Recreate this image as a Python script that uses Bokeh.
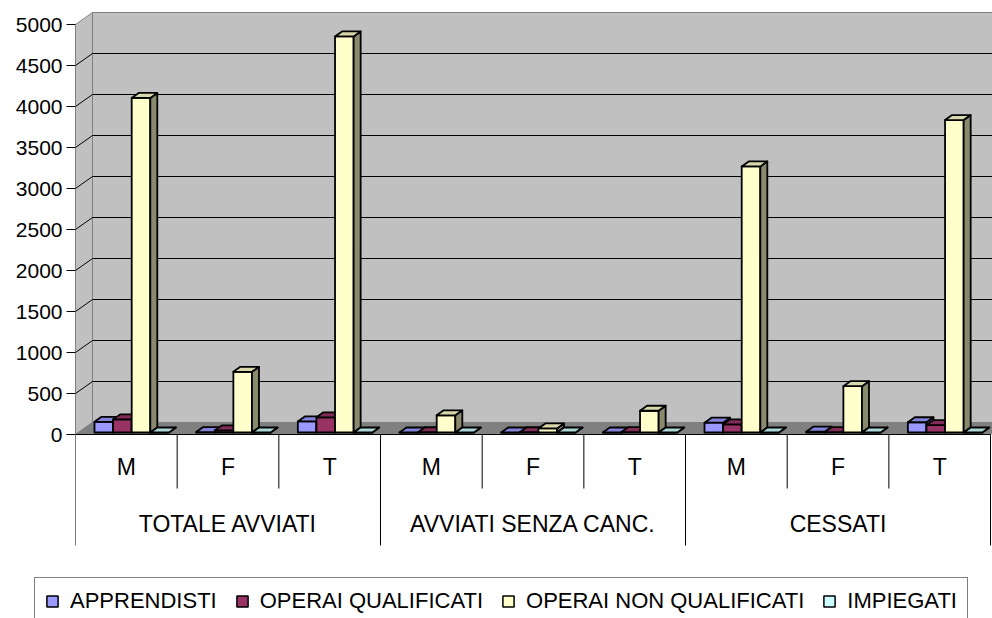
from bokeh.plotting import figure
from bokeh.layouts import column
from bokeh.models import (LinearAxis, FixedTicker, Range1d, Legend, LegendItem,
                          ColumnDataSource)
from bokeh.embed import file_html
from bokeh.resources import INLINE
from bokeh.core.properties import value

# ---------------- data ----------------
groups = ["TOTALE AVVIATI", "AVVIATI SENZA CANC.", "CESSATI"]
subcats = ["M", "F", "T"]
series_names = ["APPRENDISTI", "OPERAI QUALIFICATI", "OPERAI NON QUALIFICATI", "IMPIEGATI"]
apprendisti = [130, 5, 135, 0, 0, 0, 120, 10, 125]
operai_qualificati = [160, 25, 185, 3, 3, 5, 100, 5, 90]
operai_non_qualificati = [4080, 740, 4830, 210, 50, 265, 3245, 565, 3810]
impiegati = [0, 0, 0, 0, 0, 0, 0, 0, 0]
y_ticks = [0, 500, 1000, 1500, 2000, 2500, 3000, 3500, 4000, 4500, 5000]

series_values = [apprendisti, operai_qualificati, operai_non_qualificati, impiegati]
front_colors = ["#9999FF", "#993366", "#FFFFCC", "#CCFFFF"]

# ---------------- styling / geometry (pixels -> data units) ----------------
PX_X = 101.67          # pixels per category
PX_Y = 0.082           # pixels per unit value
FONT = "Liberation Sans"
W = 992
H1 = 570               # chart part height
H2 = 48                # legend strip height
LEFT = 75              # frame left edge (px)
BASE = 434             # baseline (px from top)

def sx(px):
    return px / PX_X

def sy(px):
    return px / PX_Y

YMAX = y_ticks[-1]
NCAT = len(groups) * len(subcats)
WALL_DX, WALL_DY = sx(17), sy(12)
BAR_DX, BAR_DY = sx(7), sy(5)
BAR_W = sx(18.6)
BAR_OFF = sx(19)
BAR_BASE = sy(2)

def shade(hexcol, f):
    h = hexcol.lstrip("#")
    r, g, b = (int(h[i:i + 2], 16) for i in (0, 2, 4))
    return "#%02x%02x%02x" % (int(r * f), int(g * f), int(b * f))

p = figure(width=W, height=H1, output_backend="svg", toolbar_location=None,
           x_range=Range1d(0, sx(W - LEFT)), y_range=Range1d(-sy(H1 - BASE), sy(BASE)),
           x_axis_location=None, y_axis_location=None,
           min_border_left=LEFT, min_border_right=0, min_border_top=0, min_border_bottom=0)
p.outline_line_color = None
p.background_fill_color = "white"
p.border_fill_color = "white"
p.xgrid.visible = False
p.ygrid.visible = False

# walls and floor
p.patch([0, WALL_DX, WALL_DX, 0], [0, WALL_DY, YMAX + WALL_DY, YMAX],
        fill_color="#C0C0C0", line_color="#808080", line_width=1)
xend = sx(W - LEFT) + 0.5
p.patch([WALL_DX, xend, xend, WALL_DX], [WALL_DY, WALL_DY, YMAX + WALL_DY, YMAX + WALL_DY],
        fill_color="#C0C0C0", line_color="#808080", line_width=1)
p.patch([0, NCAT, NCAT + WALL_DX, WALL_DX], [0, 0, WALL_DY, WALL_DY],
        fill_color="#808080", line_color="#808080", line_width=1)

# gridlines
gx0, gy0, gx1, gy1 = [], [], [], []
for v in y_ticks[1:-1]:
    gx0 += [WALL_DX, 0]
    gy0 += [v + WALL_DY, v]
    gx1 += [xend, WALL_DX]
    gy1 += [v + WALL_DY, v + WALL_DY]
p.segment(gx0, gy0, gx1, gy1, line_color="#000000", line_width=1)

# bars
xs, ys, fills = [], [], []
for c in range(NCAT):
    for s, vals in enumerate(series_values):
        v = vals[c]
        x0 = c + BAR_OFF + s * BAR_W
        x1 = x0 + BAR_W
        y0 = BAR_BASE
        y1 = BAR_BASE + v
        xs.append([x0, x1, x1, x0]); ys.append([y0, y0, y1, y1]); fills.append(front_colors[s])
        xs.append([x1, x1 + BAR_DX, x1 + BAR_DX, x1]); ys.append([y0, y0 + BAR_DY, y1 + BAR_DY, y1])
        fills.append(shade(front_colors[s], 0.54))
        xs.append([x0, x1, x1 + BAR_DX, x0 + BAR_DX]); ys.append([y1, y1, y1 + BAR_DY, y1 + BAR_DY])
        fills.append(shade(front_colors[s], 0.85))

src = ColumnDataSource(dict(xs=xs, ys=ys, fill=fills))
bars = p.patches("xs", "ys", source=src, fill_color="fill", line_color="black",
                 line_width=1.8, line_join="round")

# x axis line and category separators
p.segment([0], [0], [NCAT], [0], line_color="black", line_width=1)
sep_x, sep_y1 = [], []
for k in range(NCAT + 1):
    sep_x.append(k)
    sep_y1.append(-sy(545 - BASE) if k % len(subcats) == 0 else -sy(488 - BASE))
p.segment(sep_x, [0] * len(sep_x), sep_x, sep_y1, line_color="black", line_width=1)

sub_labels = [subcats[k % len(subcats)] for k in range(NCAT)]
p.text([k + 0.5 for k in range(NCAT)], [-sy(466 - BASE)] * NCAT, text=sub_labels,
       text_font=value(FONT), text_font_size="23px", text_align="center",
       text_baseline="middle", text_color="black")
p.text([g * len(subcats) + len(subcats) / 2 for g in range(len(groups))],
       [-sy(523 - BASE)] * len(groups), text=groups,
       text_font=value(FONT), text_font_size="23px", text_align="center",
       text_baseline="middle", text_color="black")

# y axis
yaxis = LinearAxis(ticker=FixedTicker(ticks=y_ticks), bounds=(0, YMAX))
yaxis.axis_line_color = "#808080"
yaxis.major_tick_line_color = "black"
yaxis.major_tick_out = 9
yaxis.major_tick_in = 0
yaxis.minor_tick_line_color = None
yaxis.major_label_standoff = 4
yaxis.major_label_text_font = FONT
yaxis.major_label_text_font_size = "21px"
yaxis.major_label_text_color = "black"
p.add_layout(yaxis, "left")

# ---------------- legend strip ----------------
q = figure(width=W, height=H2, output_backend="svg", toolbar_location=None,
           x_range=Range1d(0, 1), y_range=Range1d(0, 1),
           x_axis_location=None, y_axis_location=None,
           min_border_left=0, min_border_right=0, min_border_top=0, min_border_bottom=0)
q.outline_line_color = None
q.background_fill_color = "white"
q.border_fill_color = "white"
q.xgrid.visible = False
q.ygrid.visible = False
for fig in (p, q):
    if hasattr(fig, "frame_align"):
        fig.frame_align = False

lsrc = ColumnDataSource(dict(xs=[[-5, -4, -4, -5]] * len(series_names),
                             ys=[[-5, -5, -4, -4]] * len(series_names),
                             fill=front_colors))
lr = q.patches("xs", "ys", source=lsrc, fill_color="fill", line_color="black", line_width=1.5)
items = [LegendItem(label=name, renderers=[lr], index=s) for s, name in enumerate(series_names)]
legend = Legend(items=items, orientation="horizontal", location=(34, -7),
                glyph_width=14, glyph_height=14, label_standoff=11, spacing=18,
                padding=10, margin=0, border_line_color="black", border_line_width=1,
                background_fill_color="white", background_fill_alpha=1,
                label_text_font=FONT, label_text_font_size="22px", label_text_color="black")
q.add_layout(legend)

layout = column(p, q, spacing=0)
open("out.html", "w").write(file_html(layout, INLINE))
